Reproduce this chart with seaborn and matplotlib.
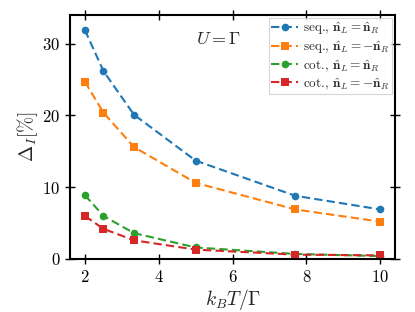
import matplotlib
matplotlib.use('Agg')
import matplotlib.pyplot as plt
import pandas as pd
import seaborn as sns

# data
kT = [2.0, 2.5, 3.33, 5.0, 7.7, 10.0]
seq_par = [31.9, 26.2, 20.1, 13.7, 8.8, 6.9]
seq_anti = [24.7, 20.4, 15.6, 10.6, 6.9, 5.2]
cot_par = [8.9, 6.0, 3.6, 1.6, 0.7, 0.4]
cot_anti = [6.0, 4.2, 2.6, 1.3, 0.6, 0.5]

labels = [r'seq., $\hat{\mathbf{n}}_L=\hat{\mathbf{n}}_R$',
          r'seq., $\hat{\mathbf{n}}_L=-\hat{\mathbf{n}}_R$',
          r'cot., $\hat{\mathbf{n}}_L=\hat{\mathbf{n}}_R$',
          r'cot., $\hat{\mathbf{n}}_L=-\hat{\mathbf{n}}_R$']
series = [seq_par, seq_anti, cot_par, cot_anti]
markers = ['o', 's', 'o', 's']
colors = sns.color_palette('tab10', 4)

sns.set_style('ticks')
plt.rcParams['font.family'] = 'serif'
plt.rcParams['font.serif'] = ['cmr10', 'DejaVu Serif']
plt.rcParams['mathtext.fontset'] = 'cm'
plt.rcParams['axes.formatter.use_mathtext'] = True

fig = plt.figure(figsize=(4.15, 3.12), dpi=100)
ax = fig.add_axes([0.169, 0.17, 0.783, 0.782])

for lab, vals, m, c in zip(labels, series, markers, colors):
    df = pd.DataFrame({'x': kT, 'y': vals})
    sns.lineplot(data=df, x='x', y='y', ax=ax, color=c, marker=m,
                 linestyle=(0, (4, 2)), markersize=5.5, markeredgewidth=0,
                 linewidth=1.5, label=lab)

ax.set_ylim(0, 34)
ax.set_xticks([2, 4, 6, 8, 10])
ax.set_yticks([0, 10, 20, 30])
ax.tick_params(direction='inout', length=7, width=1, labelsize=12,
               top=True, right=True, colors='black')
for s in ax.spines.values():
    s.set_linewidth(1.5)
    s.set_color('black')

ax.set_xlabel(r'$k_BT/\Gamma$', fontsize=14, labelpad=2)
ax.set_ylabel(r'$\Delta_I[\%]$', fontsize=14, labelpad=2)
ax.text(5.0, 30.7, r'$U=\Gamma$', fontsize=13, va='center', ha='left')

leg = ax.legend(loc='upper right', fontsize=9.5, frameon=True, fancybox=False,
                borderaxespad=0.2, handlelength=2.0, labelspacing=0.15,
                borderpad=0.2, handletextpad=0.4)
leg.get_frame().set_linewidth(0.8)
leg.get_frame().set_edgecolor('#cccccc')

fig.savefig('out.png', dpi=100)
